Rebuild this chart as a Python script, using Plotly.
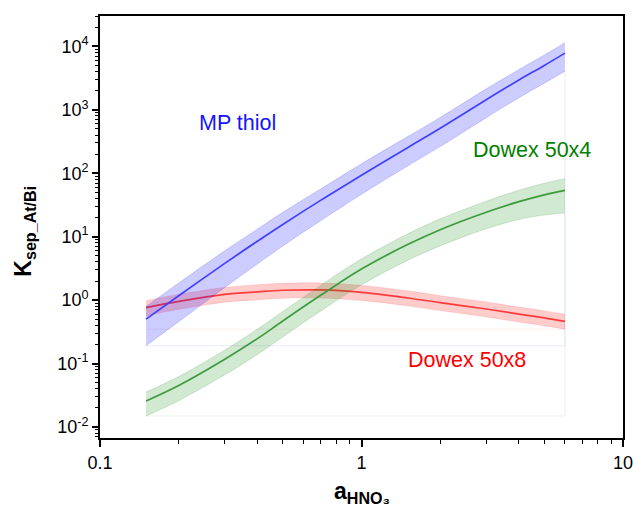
import plotly.graph_objects as go

# HNO3 activity
x = [0.15, 0.2, 0.3, 0.4, 0.5, 0.7, 1.0, 1.5, 2.0, 3.0, 4.0, 5.0, 6.0]

# MP thiol
mp_mid = [0.501, 1.17, 3.79, 8.49, 15.6, 37.7, 92.9, 253, 513, 1445, 2950, 5010, 7830]
mp_up = [0.794, 1.86, 6.01, 13.2, 24.2, 57.0, 141, 378, 759, 2140, 4320, 7330, 11430]
mp_lo = [0.191, 0.456, 1.58, 3.71, 7.13, 18.0, 46.6, 130, 263, 750, 1550, 2630, 4070]

# Dowex 50x8
d8_mid = [0.759, 0.955, 1.23, 1.35, 1.43, 1.445, 1.32, 1.08, 0.912, 0.724, 0.603, 0.525, 0.463]
d8_up = [0.977, 1.23, 1.585, 1.74, 1.84, 1.86, 1.70, 1.40, 1.175, 0.933, 0.776, 0.676, 0.597]
d8_lo = [0.569, 0.716, 0.923, 1.01, 1.07, 1.08, 0.989, 0.813, 0.684, 0.543, 0.452, 0.394, 0.347]

# Dowex 50x4
d4_mid = [0.0257, 0.0451, 0.117, 0.247, 0.468, 1.20, 3.09, 7.50, 12.9, 24.3, 35.7, 45.7, 53.7]
d4_up = [0.0355, 0.0622, 0.163, 0.349, 0.661, 1.72, 4.47, 11.0, 19.1, 36.3, 54.1, 69.7, 82.2]
d4_lo = [0.0149, 0.0259, 0.0665, 0.139, 0.263, 0.676, 1.74, 4.22, 7.16, 13.3, 18.7, 21.9, 23.6]

ytick_vals = [0.01, 0.1, 1, 10, 100, 1000, 10000]
ytick_text = ["10<sup>-2</sup>", "10<sup>-1</sup>", "10<sup>0</sup>", "10<sup>1</sup>",
              "10<sup>2</sup>", "10<sup>3</sup>", "10<sup>4</sup>"]
xtick_vals = [0.1, 1, 10]
xtick_text = ["0.1", "1", "10"]
mantissas = [2, 3, 4, 5, 6, 7, 8, 9]
xminor = [m * d for d in [0.1, 1] for m in mantissas]
yminor = [m * d for d in [0.001, 0.01, 0.1, 1, 10, 100, 1000, 10000] for m in mantissas]

FONT = "Arial, Liberation Sans, sans-serif"

fig = go.Figure()

def band(up, lo, mid, line_col, fill_col, edge_col):
    fig.add_trace(go.Scatter(x=x, y=up, mode="lines", line=dict(color=edge_col, width=1, shape="spline"),
                             showlegend=False, hoverinfo="skip"))
    fig.add_trace(go.Scatter(x=x, y=lo, mode="lines", fill="tonexty", fillcolor=fill_col,
                             line=dict(color=edge_col, width=1, shape="spline"),
                             showlegend=False, hoverinfo="skip"))
    # faint closing outline of the filled area
    m = min(lo)
    fig.add_trace(go.Scatter(x=[x[-1], x[-1], x[0]], y=[lo[-1], m, m], mode="lines",
                             line=dict(color=edge_col, width=1), opacity=0.5,
                             showlegend=False, hoverinfo="skip"))
    fig.add_trace(go.Scatter(x=x, y=mid, mode="lines", line=dict(color=line_col, width=1.7, shape="spline"),
                             showlegend=False))

band(d8_up, d8_lo, d8_mid, "rgb(255,60,60)", "rgba(255,0,0,0.2)", "rgba(255,0,0,0.12)")
band(d4_up, d4_lo, d4_mid, "rgb(60,155,60)", "rgba(0,128,0,0.18)", "rgba(0,128,0,0.15)")
band(mp_up, mp_lo, mp_mid, "rgb(64,64,255)", "rgba(0,0,255,0.2)", "rgba(0,0,255,0.15)")

fig.add_annotation(x=-0.473, y=2.80, text="MP thiol", showarrow=False,
                   font=dict(family=FONT, size=21.5, color="rgb(20,20,255)"))
fig.add_annotation(x=0.652, y=2.372, text="Dowex 50x4", showarrow=False,
                   font=dict(family=FONT, size=21.5, color="rgb(0,128,0)"))
fig.add_annotation(x=0.404, y=-0.94, text="Dowex 50x8", showarrow=False,
                   font=dict(family=FONT, size=21.5, color="rgb(255,0,0)"))

# axis titles
fig.add_annotation(xref="paper", yref="paper", x=-0.176, y=0.49, textangle=-90,
                   text="<b>K<sub>sep_At/Bi</sub></b>", showarrow=False,
                   font=dict(family=FONT, size=23, color="black"))
fig.add_annotation(xref="paper", yref="paper", x=0.5, y=-0.128, yanchor="middle",
                   text="<b>a<sub>HNO₃</sub></b>", showarrow=False,
                   font=dict(family=FONT, size=23, color="black"))

fig.update_xaxes(type="log", range=[-1, 1], tickvals=xtick_vals, ticktext=xtick_text,
                 ticks="outside", ticklen=7, tickwidth=1.5, tickcolor="black",
                 minor=dict(tickmode="array", tickvals=xminor, ticks="outside", ticklen=4,
                            tickwidth=1.2, tickcolor="black", showgrid=False),
                 showline=True, linewidth=1.8, linecolor="black", mirror=True,
                 showgrid=False, zeroline=False, automargin=False, ticklabeloverflow="allow",
                 tickfont=dict(family=FONT, size=18, color="black"))
fig.update_yaxes(type="log", range=[-2.174, 4.479], tickvals=ytick_vals, ticktext=ytick_text,
                 ticks="outside", ticklen=6, tickwidth=1.5, tickcolor="black",
                 minor=dict(tickmode="array", tickvals=yminor, ticks="outside", ticklen=3,
                            tickwidth=1.2, tickcolor="black", showgrid=False),
                 showline=True, linewidth=1.8, linecolor="black", mirror=True,
                 showgrid=False, zeroline=False, automargin=False, ticklabeloverflow="allow",
                 tickfont=dict(family=FONT, size=18, color="black"))

fig.update_layout(width=633, height=509, margin=dict(l=100, r=10, t=16, b=71),
                  plot_bgcolor="white", paper_bgcolor="white", showlegend=False)

fig.write_html("out.html", config={"displayModeBar": False},
               post_script="document.body.style.margin='0';document.body.style.overflow='hidden';")
